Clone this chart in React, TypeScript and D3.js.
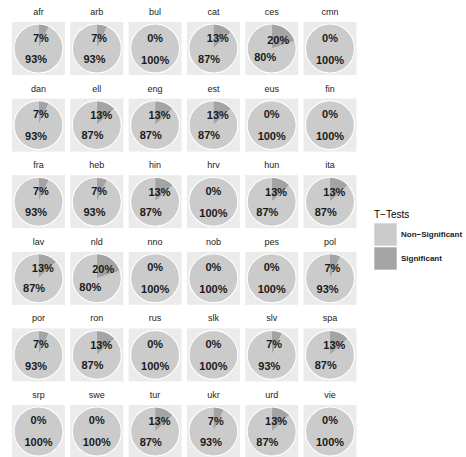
import * as d3 from 'd3';

// languages in facet order (6 x 6 grid)
const LANGS = [
  'afr', 'arb', 'bul', 'cat', 'ces', 'cmn',
  'dan', 'ell', 'eng', 'est', 'eus', 'fin',
  'fra', 'heb', 'hin', 'hrv', 'hun', 'ita',
  'lav', 'nld', 'nno', 'nob', 'pes', 'pol',
  'por', 'ron', 'rus', 'slk', 'slv', 'spa',
  'srp', 'swe', 'tur', 'ukr', 'urd', 'vie',
];

// share of significant t-tests, percent (same order as LANGS)
const SIGNIFICANT = [
  7, 7, 0, 13, 20, 0,
  7, 13, 13, 13, 0, 0,
  7, 7, 13, 0, 13, 13,
  13, 20, 0, 0, 0, 7,
  7, 13, 0, 0, 7, 13,
  0, 0, 13, 7, 13, 0,
];

const LEGEND_LABELS = ['Non-Significant', 'Significant'];
const COLS = 6;

const W = 466;
const H = 457;
const FONT = '"Liberation Sans", Arial, sans-serif';
const NONSIG_COLOR = '#cbcbcb';
const SIG_COLOR = '#a4a4a4';

export default function App() {
  const rows = Math.ceil(LANGS.length / COLS);
  const x = d3.scaleBand<number>()
    .domain(d3.range(COLS))
    .range([12, 356.5])
    .paddingInner(0.091);
  const y = d3.scaleBand<number>()
    .domain(d3.range(rows))
    .range([22, 458])
    .paddingInner(0.308);

  const bw = x.bandwidth();
  const bh = y.bandwidth();
  const r = 24.5;
  const labelR = 11;

  const pie = d3.pie<{ key: string; value: number }>()
    .sort(null)
    .value(d => d.value);
  const arc = d3.arc<d3.PieArcDatum<{ key: string; value: number }>>()
    .innerRadius(0)
    .outerRadius(r);

  const color = d3.scaleOrdinal<string, string>()
    .domain(LEGEND_LABELS)
    .range([NONSIG_COLOR, SIG_COLOR]);

  return (
    <div style={{ position: 'absolute', left: 0, top: 0 }}>
      <svg width={W} height={H} style={{ display: 'block', background: '#fff' }} fontFamily={FONT}>
        {LANGS.map((lang, i) => {
          const col = i % COLS;
          const row = Math.floor(i / COLS);
          const px = x(col) || 0;
          const py = y(row) || 0;
          const cx = px + bw / 2;
          const cy = py + bh / 2;
          const sig = SIGNIFICANT[i];
          const slices = pie([
            { key: 'Significant', value: sig },
            { key: 'Non-Significant', value: 100 - sig },
          ]);
          return (
            <g key={lang}>
              <text
                x={cx}
                y={py - 10}
                textAnchor="middle"
                dominantBaseline="central"
                fontSize={9}
                fill="#1a1a1a"
              >
                {lang}
              </text>
              <rect x={px} y={py} width={bw} height={bh} fill="#ebebeb" />
              <g transform={`translate(${cx},${cy})`}>
                {slices.map(s => (
                  s.data.value > 0 && (
                    <path key={s.data.key} d={arc(s) || ''} fill={color(s.data.key)} />
                  )
                ))}
                <circle r={r} fill="none" stroke="#ffffff" strokeWidth={1.1} />
                {slices.map(s => {
                  const mid = (s.startAngle + s.endAngle) / 2;
                  return (
                    <text
                      key={s.data.key + '-lbl'}
                      x={Math.sin(mid) * labelR}
                      y={-Math.cos(mid) * labelR}
                      textAnchor="middle"
                      dominantBaseline="central"
                      fontSize={11}
                      fontWeight="bold"
                      fill="#1a1a1a"
                    >
                      {s.data.value}%
                    </text>
                  );
                })}
              </g>
            </g>
          );
        })}

        <g transform="translate(374,0)">
          <text x={0} y={214} dominantBaseline="central" fontSize={10} fill="#000">
            T−Tests
          </text>
          {LEGEND_LABELS.map((lbl, i) => (
            <g key={lbl} transform={`translate(0,${223 + i * 24})`}>
              <rect x={0} y={0} width={23} height={23} fill={color(lbl)} stroke="#ffffff" strokeWidth={0.6} />
              <text x={27} y={11.5} dominantBaseline="central" fontSize={8} fontWeight="bold" fill="#1a1a1a">
                {lbl.replace('-', '−')}
              </text>
            </g>
          ))}
        </g>
      </svg>
    </div>
  );
}
